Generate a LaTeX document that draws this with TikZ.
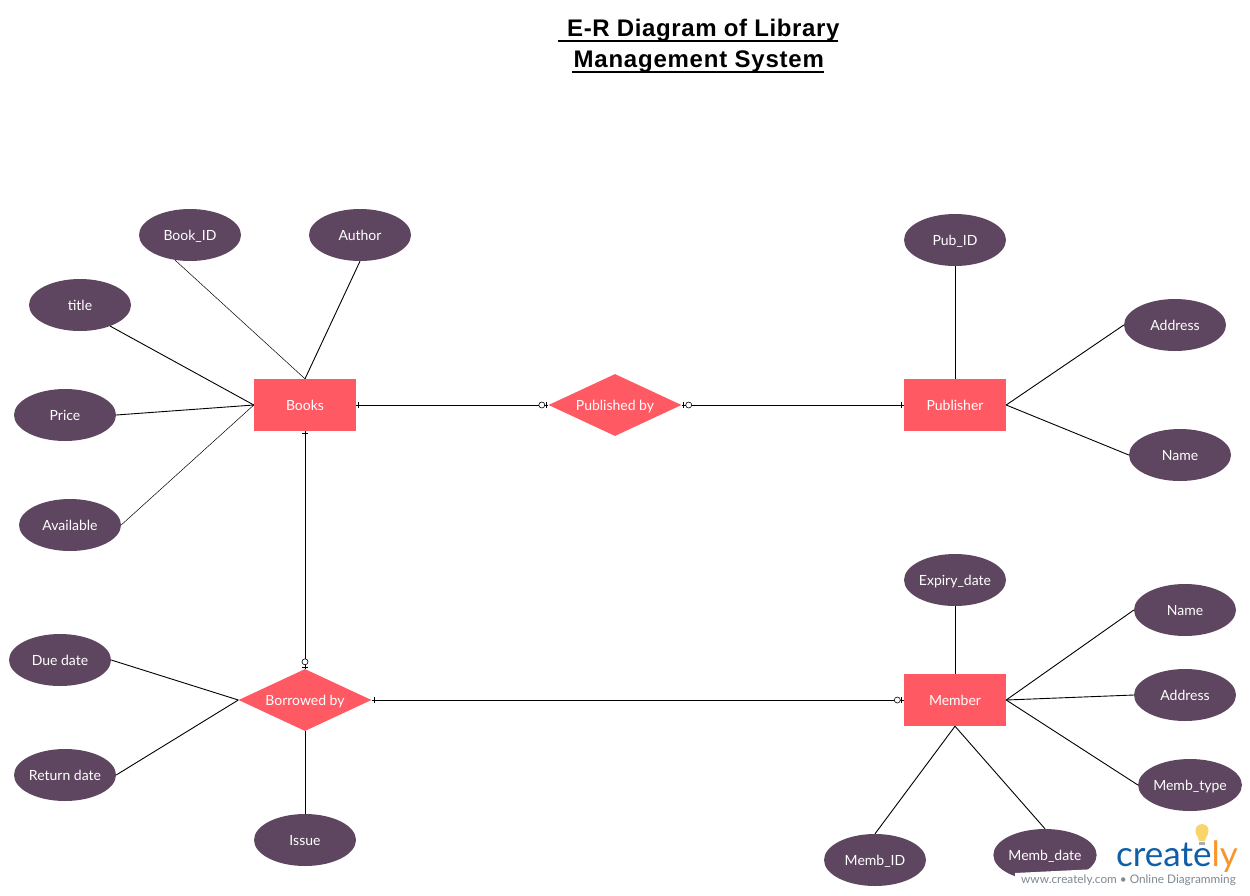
\documentclass[tikz,border=0pt]{standalone}
\usepackage{fontspec}
\setmainfont{Lato}
\newfontfamily\titlefont[LetterSpace=3.2]{Liberation Sans}
\newfontfamily\titlefontb[LetterSpace=2.5]{Liberation Sans}
\usetikzlibrary{shapes.geometric,decorations.markings}
\definecolor{attrcol}{HTML}{5F4660}
\definecolor{entcol}{HTML}{FF5A64}
\definecolor{logoblue}{HTML}{0F5FA8}
\definecolor{logoorange}{HTML}{F7962B}
\definecolor{logobulb}{HTML}{F7D56B}
\definecolor{logogray}{HTML}{808890}
\tikzset{
 x=1pt,y=-1pt,
 lbl/.style={text=white,text height=10pt,text depth=0pt,font=\fontsize{14}{16}\selectfont},
 attr/.style={ellipse,fill=attrcol,minimum width=102pt,minimum height=52pt,inner sep=0pt,lbl},
 entity/.style={rectangle,fill=entcol,minimum width=102pt,minimum height=52pt,inner sep=0pt,lbl},
 rel/.style={diamond,fill=entcol,minimum width=133pt,minimum height=62pt,inner sep=0pt,aspect=2.1,lbl},
 link/.style={draw=black,line width=0.9pt},
 thinlink/.style={draw=black,line width=0.5pt},
 tickAt/.style={postaction={decorate,decoration={markings,mark=at position #1 with {\draw[line width=0.7pt] (0,-3)--(0,3);}}}},
 ringAt/.style={postaction={decorate,decoration={markings,mark=at position #1 with {\draw[line width=0.6pt,fill=white] (0,0) circle[radius=3pt];}}}},
 titletext/.style={anchor=base west,inner sep=0pt,font=\titlefont\bfseries\fontsize{24}{28}\selectfont},
}
\begin{document}
\begin{tikzpicture}
\useasboundingbox (0,0) rectangle (1250,895);
% title
\node[titletext,font=\titlefontb\bfseries\fontsize{24}{28}\selectfont] (t1) at (567,36.5) {E-R Diagram of Library};
\node[titletext] (t2) at (573.5,67.5) {Management System};
\fill (558,40.2) rectangle (838,42);
\fill (572,71.2) rectangle (824,73);
% entities and relations
\node[entity] (books) at (305,405) {Books};
\node[entity] (publisher) at (955,405) {Publisher};
\node[entity] (member) at (955,700) {Member};
\node[rel] (published) at (615,405) {Published by};
\node[rel] (borrowed) at (305,700) {Borrowed by};
% attributes
\node[attr] (bookid) at (190,235) {Book\_ID};
\node[attr] (author) at (360,235) {Author};
\node[attr] (title) at (80,305) {title};
\node[attr] (price) at (65,415) {Price};
\node[attr] (available) at (70,525) {Available};
\node[attr] (pubid) at (955,240) {Pub\_ID};
\node[attr] (pubaddr) at (1175,325) {Address};
\node[attr] (pubname) at (1180,455) {Name};
\node[attr] (expiry) at (955,580) {Expiry\_date};
\node[attr] (memname) at (1185,610) {Name};
\node[attr] (memaddr) at (1185,695) {Address};
\node[attr] (memtype) at (1190,785) {Memb\_type};
\node[attr] (memid) at (875,860) {Memb\_ID};
\node[attr] (memdate) at (1045,855) {Memb\_date};
\node[attr] (duedate) at (60,660) {Due date};
\node[attr] (returndate) at (65,775) {Return date};
\node[attr] (issue) at (305,840) {Issue};
% attribute connectors
\draw[thinlink] (bookid.239) -- (books.north);
\draw[link] (author.south) -- (books.north);
\draw[link] (title.325) -- (books.west);
\draw[link] (price.east) -- (books.west);
\draw[thinlink] (available.east) -- (books.west);
\draw[link] (pubid.south) -- (publisher.north);
\draw[link] (pubaddr.west) -- (publisher.east);
\draw[link] (pubname.west) -- (publisher.east);
\draw[link] (expiry.south) -- (member.north);
\draw[link] (memname.west) -- (member.east);
\draw[link] (memaddr.west) -- (member.east);
\draw[link] (memtype.west) -- (member.east);
\draw[link] (memid.north) -- (member.south);
\draw[link] (memdate.north) -- (member.south);
\draw[link] (duedate.east) -- (borrowed.west);
\draw[link] (returndate.east) -- (borrowed.west);
\draw[link] (issue.north) -- (borrowed.south);
% relationship connectors
\draw[link,tickAt=2.5pt,ringAt=-6.5pt,tickAt=-2pt] (books.east) -- (published.west);
\draw[link,tickAt=2pt,ringAt=7pt,tickAt=-2pt] (published.east) -- (publisher.west);
\draw[link,tickAt=2pt,ringAt=-7pt,tickAt=-1.5pt] (books.south) -- (borrowed.north);
\draw[link,tickAt=2.5pt,ringAt=-6.5pt,tickAt=-2pt] (borrowed.east) -- (member.west);
% watermark
\fill[white] (1015,895) -- (1015,873) -- (1097,869) -- (1097,895) -- cycle;
\node[anchor=base east,inner sep=0pt,font=\fontsize{35}{36}\selectfont] (logo) at (1238,866) {\textcolor{logoblue}{create}\textcolor{logoorange}{ly}};
\node[anchor=base east,inner sep=0pt,text=logogray,font=\fontsize{11.8}{14}\selectfont] (www) at (1236,883) {www.creately.com • Online Diagramming};
\fill[logobulb] (1199,841) .. controls (1198,835) and (1195.5,836) .. (1195.5,830.5) .. controls (1195.5,822) and (1208.5,822) .. (1208.5,830.5) .. controls (1208.5,836) and (1206,835) .. (1205,841) -- cycle;
\fill[logogray!70] (1199,841.5) rectangle (1205,844.5);
\end{tikzpicture}
\end{document}
